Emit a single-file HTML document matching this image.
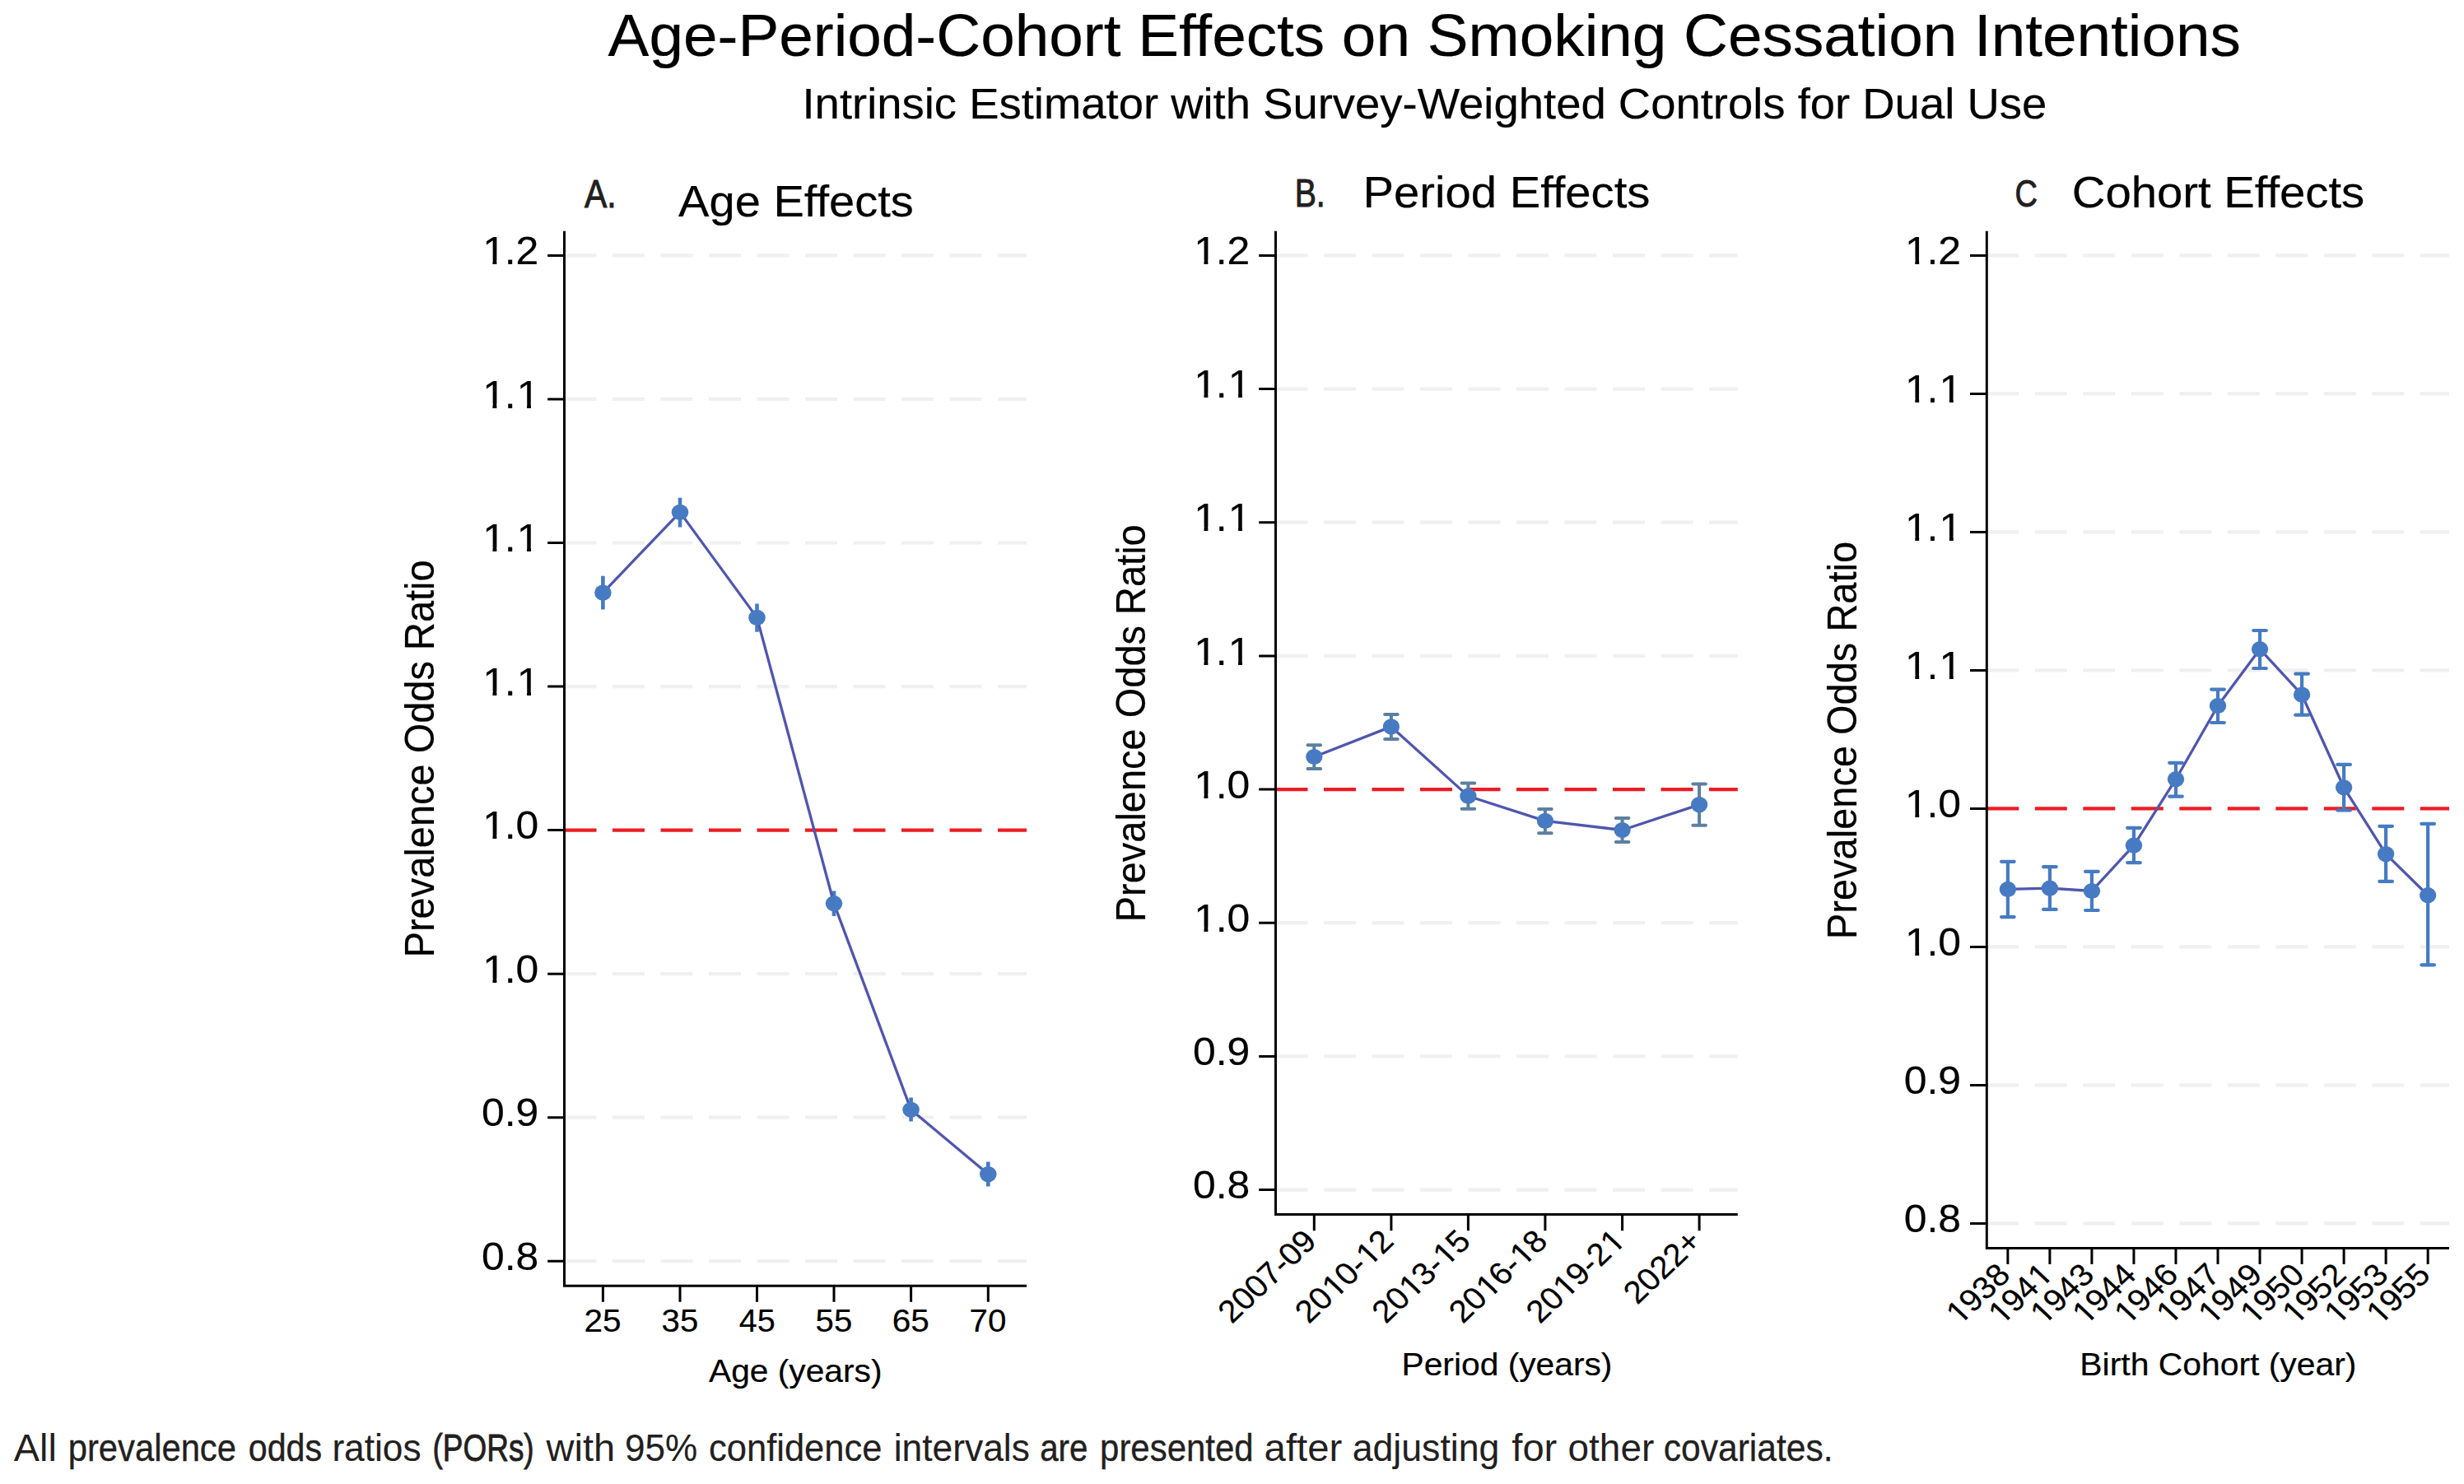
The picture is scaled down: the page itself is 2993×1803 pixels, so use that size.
<!DOCTYPE html>
<html lang="en"><head><meta charset="utf-8"><title>Age-Period-Cohort Effects on Smoking Cessation Intentions</title>
<style>
html,body{margin:0;padding:0;background:#fff;}
body{width:2993px;height:1803px;overflow:hidden;}
svg{display:block;}
text{font-family:"Liberation Sans", sans-serif;fill:#000;stroke:#000;stroke-width:0.2px;}
.ax{stroke:#000;stroke-width:3;fill:none;stroke-linecap:butt;}
.grid{stroke:#f0f0f0;stroke-width:4.2;stroke-dasharray:39 19.5;fill:none;}
.ref{stroke:#ed1c24;stroke-width:4.2;stroke-dasharray:39 19.5;fill:none;}
.ln{stroke:#5056ae;stroke-width:3.3;fill:none;stroke-linejoin:round;}
.mk{fill:#467bc3;}
.pl{fill:#231f20;stroke:#231f20;stroke-width:1.0px;}
.ft{fill:#231f20;stroke:#231f20;}
</style></head><body>
<svg width="2993" height="1803" viewBox="0 0 2993 1803">
<rect width="2993" height="1803" fill="#fff"/>
<text x="738.63" y="68.14" font-size="71.5" textLength="1983.28" lengthAdjust="spacingAndGlyphs">Age-Period-Cohort Effects on Smoking Cessation Intentions</text>
<text x="974.50" y="143.84" font-size="52.4" textLength="1511.70" lengthAdjust="spacingAndGlyphs">Intrinsic Estimator with Survey-Weighted Controls for Dual Use</text>
<g>
<path class="grid" d="M685.5 310.4H1247"/>
<path class="grid" d="M685.5 484.9H1247"/>
<path class="grid" d="M685.5 659.5H1247"/>
<path class="grid" d="M685.5 834.1H1247"/>
<path class="ref" d="M685.5 1008.6H1247"/>
<path class="grid" d="M685.5 1183.2H1247"/>
<path class="grid" d="M685.5 1357.7H1247"/>
<path class="grid" d="M685.5 1532.2H1247"/>
<path class="ax" d="M685.5 280.7V1562.2H1247"/>
<path class="ax" d="M665.2 310.4H685.5M665.2 484.9H685.5M665.2 659.5H685.5M665.2 834.1H685.5M665.2 1008.6H685.5M665.2 1183.2H685.5M665.2 1357.7H685.5M665.2 1532.2H685.5M732.4 1562.2V1581.8M826.0 1562.2V1581.8M919.5 1562.2V1581.8M1013.0 1562.2V1581.8M1106.6 1562.2V1581.8M1200.3 1562.2V1581.8"/>
<g transform="translate(584.95 321.00) scale(1.0286 1)"><text x="0" y="0" font-size="48.5" dx="1.21 -1.21 0.00">1.2</text><path fill="#fff" d="M3.92 -4.96H13.14v7.76H3.92zM17.90 -4.96H26.63v7.76H17.90z"/></g>
<g transform="translate(584.95 495.50) scale(1.0286 1)"><text x="0" y="0" font-size="48.5" dx="1.21 -1.21 1.21">1.1</text><path fill="#fff" d="M3.92 -4.96H13.14v7.76H3.92zM17.90 -4.96H26.63v7.76H17.90z"/><path fill="#fff" d="M44.37 -4.96H53.58v7.76H44.37zM58.35 -4.96H67.08v7.76H58.35z"/></g>
<g transform="translate(584.95 670.10) scale(1.0286 1)"><text x="0" y="0" font-size="48.5" dx="1.21 -1.21 1.21">1.1</text><path fill="#fff" d="M3.92 -4.96H13.14v7.76H3.92zM17.90 -4.96H26.63v7.76H17.90z"/><path fill="#fff" d="M44.37 -4.96H53.58v7.76H44.37zM58.35 -4.96H67.08v7.76H58.35z"/></g>
<g transform="translate(584.95 844.70) scale(1.0286 1)"><text x="0" y="0" font-size="48.5" dx="1.21 -1.21 1.21">1.1</text><path fill="#fff" d="M3.92 -4.96H13.14v7.76H3.92zM17.90 -4.96H26.63v7.76H17.90z"/><path fill="#fff" d="M44.37 -4.96H53.58v7.76H44.37zM58.35 -4.96H67.08v7.76H58.35z"/></g>
<g transform="translate(584.95 1019.20) scale(1.0286 1)"><text x="0" y="0" font-size="48.5" dx="1.21 -1.21 0.00">1.0</text><path fill="#fff" d="M3.92 -4.96H13.14v7.76H3.92zM17.90 -4.96H26.63v7.76H17.90z"/></g>
<g transform="translate(584.95 1193.80) scale(1.0286 1)"><text x="0" y="0" font-size="48.5" dx="1.21 -1.21 0.00">1.0</text><path fill="#fff" d="M3.92 -4.96H13.14v7.76H3.92zM17.90 -4.96H26.63v7.76H17.90z"/></g>
<g transform="translate(584.95 1368.30) scale(1.0286 1)"><text x="0" y="0" font-size="48.5">0.9</text></g>
<g transform="translate(584.95 1542.80) scale(1.0286 1)"><text x="0" y="0" font-size="48.5">0.8</text></g>
<text x="709.58" y="1618.34" font-size="38.6" textLength="45.04" lengthAdjust="spacingAndGlyphs">25</text>
<text x="803.60" y="1618.34" font-size="38.6" textLength="44.60" lengthAdjust="spacingAndGlyphs">35</text>
<text x="897.71" y="1618.34" font-size="38.6" textLength="43.96" lengthAdjust="spacingAndGlyphs">45</text>
<text x="990.60" y="1618.34" font-size="38.6" textLength="44.60" lengthAdjust="spacingAndGlyphs">55</text>
<text x="1083.78" y="1618.34" font-size="38.6" textLength="45.04" lengthAdjust="spacingAndGlyphs">65</text>
<text x="1177.49" y="1618.34" font-size="38.6" textLength="44.82" lengthAdjust="spacingAndGlyphs">70</text>
<g transform="translate(527.3 921.0) rotate(-90)">
<text x="-242.36" y="-0.06" font-size="50.5" textLength="482.99" lengthAdjust="spacingAndGlyphs">Prevalence Odds Ratio</text>
</g>
<text x="861.00" y="1678.84" font-size="38.8" textLength="210.49" lengthAdjust="spacingAndGlyphs">Age (years)</text>
<path d="M732.4 699.8V740.5M826.0 604.8V640.5M919.5 733.6V767.7M1013.0 1082.4V1113.1M1106.6 1333.5V1362.6M1200.3 1411.6V1441.4" stroke="#467bc3" stroke-width="4.6" fill="none" stroke-linecap="butt"/>
<path class="ln" d="M732.4 720.1L826.0 622.4L919.5 750.4L1013.0 1097.7L1106.6 1348.3L1200.3 1426.6"/>
<ellipse class="mk" cx="732.4" cy="720.1" rx="10.3" ry="9.6"/>
<ellipse class="mk" cx="826.0" cy="622.4" rx="10.3" ry="9.6"/>
<ellipse class="mk" cx="919.5" cy="750.4" rx="10.3" ry="9.6"/>
<ellipse class="mk" cx="1013.0" cy="1097.7" rx="10.3" ry="9.6"/>
<ellipse class="mk" cx="1106.6" cy="1348.3" rx="10.3" ry="9.6"/>
<ellipse class="mk" cx="1200.3" cy="1426.6" rx="10.3" ry="9.6"/>
</g>
<g>
<path class="grid" d="M1549.5 310.4H2110.8"/>
<path class="grid" d="M1549.5 472.6H2110.8"/>
<path class="grid" d="M1549.5 634.7H2110.8"/>
<path class="grid" d="M1549.5 796.9H2110.8"/>
<path class="ref" d="M1549.5 959.1H2110.8"/>
<path class="grid" d="M1549.5 1121.2H2110.8"/>
<path class="grid" d="M1549.5 1283.4H2110.8"/>
<path class="grid" d="M1549.5 1445.6H2110.8"/>
<path class="ax" d="M1549.5 280.7V1475.6H2110.8"/>
<path class="ax" d="M1529.2 310.4H1549.5M1529.2 472.6H1549.5M1529.2 634.7H1549.5M1529.2 796.9H1549.5M1529.2 959.1H1549.5M1529.2 1121.2H1549.5M1529.2 1283.4H1549.5M1529.2 1445.6H1549.5M1596.3 1475.6V1495.1999999999998M1689.9 1475.6V1495.1999999999998M1783.4 1475.6V1495.1999999999998M1876.9 1475.6V1495.1999999999998M1970.6 1475.6V1495.1999999999998M2064.1 1475.6V1495.1999999999998"/>
<g transform="translate(1448.95 321.00) scale(1.0286 1)"><text x="0" y="0" font-size="48.5" dx="1.21 -1.21 0.00">1.2</text><path fill="#fff" d="M3.92 -4.96H13.14v7.76H3.92zM17.90 -4.96H26.63v7.76H17.90z"/></g>
<g transform="translate(1448.95 483.20) scale(1.0286 1)"><text x="0" y="0" font-size="48.5" dx="1.21 -1.21 1.21">1.1</text><path fill="#fff" d="M3.92 -4.96H13.14v7.76H3.92zM17.90 -4.96H26.63v7.76H17.90z"/><path fill="#fff" d="M44.37 -4.96H53.58v7.76H44.37zM58.35 -4.96H67.08v7.76H58.35z"/></g>
<g transform="translate(1448.95 645.30) scale(1.0286 1)"><text x="0" y="0" font-size="48.5" dx="1.21 -1.21 1.21">1.1</text><path fill="#fff" d="M3.92 -4.96H13.14v7.76H3.92zM17.90 -4.96H26.63v7.76H17.90z"/><path fill="#fff" d="M44.37 -4.96H53.58v7.76H44.37zM58.35 -4.96H67.08v7.76H58.35z"/></g>
<g transform="translate(1448.95 807.50) scale(1.0286 1)"><text x="0" y="0" font-size="48.5" dx="1.21 -1.21 1.21">1.1</text><path fill="#fff" d="M3.92 -4.96H13.14v7.76H3.92zM17.90 -4.96H26.63v7.76H17.90z"/><path fill="#fff" d="M44.37 -4.96H53.58v7.76H44.37zM58.35 -4.96H67.08v7.76H58.35z"/></g>
<g transform="translate(1448.95 969.70) scale(1.0286 1)"><text x="0" y="0" font-size="48.5" dx="1.21 -1.21 0.00">1.0</text><path fill="#fff" d="M3.92 -4.96H13.14v7.76H3.92zM17.90 -4.96H26.63v7.76H17.90z"/></g>
<g transform="translate(1448.95 1131.80) scale(1.0286 1)"><text x="0" y="0" font-size="48.5" dx="1.21 -1.21 0.00">1.0</text><path fill="#fff" d="M3.92 -4.96H13.14v7.76H3.92zM17.90 -4.96H26.63v7.76H17.90z"/></g>
<g transform="translate(1448.95 1294.00) scale(1.0286 1)"><text x="0" y="0" font-size="48.5">0.9</text></g>
<g transform="translate(1448.95 1456.20) scale(1.0286 1)"><text x="0" y="0" font-size="48.5">0.8</text></g>
<g transform="translate(1601.3 1510.2) scale(1.06,1) rotate(-45)"><text x="-140.20" y="0" font-size="38.2">2007-09</text></g>
<g transform="translate(1694.9 1510.2) scale(1.06,1) rotate(-45)"><text x="-140.20" y="0" font-size="38.2" dx="0.00 0.00 0.96 -0.96 0.00 0.96 -0.96">2010-12</text><path fill="#fff" d="M-94.66 -4.01H-87.41v6.81H-94.66zM-83.55 -4.01H-76.69v6.81H-83.55z"/><path fill="#fff" d="M-39.45 -4.01H-32.20v6.81H-39.45zM-28.34 -4.01H-21.47v6.81H-28.34z"/></g>
<g transform="translate(1788.4 1510.2) scale(1.06,1) rotate(-45)"><text x="-140.20" y="0" font-size="38.2" dx="0.00 0.00 0.96 -0.96 0.00 0.96 -0.96">2013-15</text><path fill="#fff" d="M-94.66 -4.01H-87.41v6.81H-94.66zM-83.55 -4.01H-76.69v6.81H-83.55z"/><path fill="#fff" d="M-39.45 -4.01H-32.20v6.81H-39.45zM-28.34 -4.01H-21.47v6.81H-28.34z"/></g>
<g transform="translate(1881.9 1510.2) scale(1.06,1) rotate(-45)"><text x="-140.20" y="0" font-size="38.2" dx="0.00 0.00 0.96 -0.96 0.00 0.96 -0.96">2016-18</text><path fill="#fff" d="M-94.66 -4.01H-87.41v6.81H-94.66zM-83.55 -4.01H-76.69v6.81H-83.55z"/><path fill="#fff" d="M-39.45 -4.01H-32.20v6.81H-39.45zM-28.34 -4.01H-21.47v6.81H-28.34z"/></g>
<g transform="translate(1975.6 1510.2) scale(1.06,1) rotate(-45)"><text x="-140.20" y="0" font-size="38.2" dx="0.00 0.00 0.96 -0.96 0.00 0.00 0.96">2019-21</text><path fill="#fff" d="M-94.66 -4.01H-87.41v6.81H-94.66zM-83.55 -4.01H-76.69v6.81H-83.55z"/><path fill="#fff" d="M-18.20 -4.01H-10.95v6.81H-18.20zM-7.09 -4.01H-0.23v6.81H-7.09z"/></g>
<g transform="translate(2069.1 1510.2) scale(1.06,1) rotate(-45)"><text x="-107.30" y="0" font-size="38.2">2022+</text></g>
<g transform="translate(1391.3 877.9) rotate(-90)">
<text x="-242.36" y="-0.06" font-size="50.5" textLength="482.99" lengthAdjust="spacingAndGlyphs">Prevalence Odds Ratio</text>
</g>
<text x="1702.54" y="1670.74" font-size="38.8" textLength="255.90" lengthAdjust="spacingAndGlyphs">Period (years)</text>
<path d="M1596.3 905.3V933.9M1588.5 905.3h15.6M1588.5 933.9h15.6M1689.9 867.9V898.0M1682.1000000000001 867.9h15.6M1682.1000000000001 898.0h15.6M1783.4 951.4V982.8M1775.6000000000001 951.4h15.6M1775.6000000000001 982.8h15.6M1876.9 982.9V1012.3M1869.1000000000001 982.9h15.6M1869.1000000000001 1012.3h15.6M1970.6 994.1V1022.9M1962.8 994.1h15.6M1962.8 1022.9h15.6M2064.1 952.4V1002.7M2056.2999999999997 952.4h15.6M2056.2999999999997 1002.7h15.6" stroke="#5b80a0" stroke-width="4.0" fill="none" stroke-linecap="round"/>
<path class="ln" d="M1596.3 919.5L1689.9 882.9L1783.4 967.2L1876.9 997.4L1970.6 1008.5L2064.1 977.6"/>
<ellipse class="mk" cx="1596.3" cy="919.5" rx="10.15" ry="9.6"/>
<ellipse class="mk" cx="1689.9" cy="882.9" rx="10.15" ry="9.6"/>
<ellipse class="mk" cx="1783.4" cy="967.2" rx="10.15" ry="9.6"/>
<ellipse class="mk" cx="1876.9" cy="997.4" rx="10.15" ry="9.6"/>
<ellipse class="mk" cx="1970.6" cy="1008.5" rx="10.15" ry="9.6"/>
<ellipse class="mk" cx="2064.1" cy="977.6" rx="10.15" ry="9.6"/>
</g>
<g>
<path class="grid" d="M2413.3 310.4H2975.0"/>
<path class="grid" d="M2413.3 478.4H2975.0"/>
<path class="grid" d="M2413.3 646.4H2975.0"/>
<path class="grid" d="M2413.3 814.4H2975.0"/>
<path class="ref" d="M2413.3 982.4H2975.0"/>
<path class="grid" d="M2413.3 1150.4H2975.0"/>
<path class="grid" d="M2413.3 1318.4H2975.0"/>
<path class="grid" d="M2413.3 1486.4H2975.0"/>
<path class="ax" d="M2413.3 280.7V1516.5H2975.0"/>
<path class="ax" d="M2393.0 310.4H2413.3M2393.0 478.4H2413.3M2393.0 646.4H2413.3M2393.0 814.4H2413.3M2393.0 982.4H2413.3M2393.0 1150.4H2413.3M2393.0 1318.4H2413.3M2393.0 1486.4H2413.3M2438.85 1516.5V1536.1M2489.88 1516.5V1536.1M2540.91 1516.5V1536.1M2591.94 1516.5V1536.1M2642.97 1516.5V1536.1M2694.0 1516.5V1536.1M2745.03 1516.5V1536.1M2796.06 1516.5V1536.1M2847.09 1516.5V1536.1M2898.12 1516.5V1536.1M2949.15 1516.5V1536.1"/>
<g transform="translate(2312.75 321.00) scale(1.0286 1)"><text x="0" y="0" font-size="48.5" dx="1.21 -1.21 0.00">1.2</text><path fill="#fff" d="M3.92 -4.96H13.14v7.76H3.92zM17.90 -4.96H26.63v7.76H17.90z"/></g>
<g transform="translate(2312.75 489.00) scale(1.0286 1)"><text x="0" y="0" font-size="48.5" dx="1.21 -1.21 1.21">1.1</text><path fill="#fff" d="M3.92 -4.96H13.14v7.76H3.92zM17.90 -4.96H26.63v7.76H17.90z"/><path fill="#fff" d="M44.37 -4.96H53.58v7.76H44.37zM58.35 -4.96H67.08v7.76H58.35z"/></g>
<g transform="translate(2312.75 657.00) scale(1.0286 1)"><text x="0" y="0" font-size="48.5" dx="1.21 -1.21 1.21">1.1</text><path fill="#fff" d="M3.92 -4.96H13.14v7.76H3.92zM17.90 -4.96H26.63v7.76H17.90z"/><path fill="#fff" d="M44.37 -4.96H53.58v7.76H44.37zM58.35 -4.96H67.08v7.76H58.35z"/></g>
<g transform="translate(2312.75 825.00) scale(1.0286 1)"><text x="0" y="0" font-size="48.5" dx="1.21 -1.21 1.21">1.1</text><path fill="#fff" d="M3.92 -4.96H13.14v7.76H3.92zM17.90 -4.96H26.63v7.76H17.90z"/><path fill="#fff" d="M44.37 -4.96H53.58v7.76H44.37zM58.35 -4.96H67.08v7.76H58.35z"/></g>
<g transform="translate(2312.75 993.00) scale(1.0286 1)"><text x="0" y="0" font-size="48.5" dx="1.21 -1.21 0.00">1.0</text><path fill="#fff" d="M3.92 -4.96H13.14v7.76H3.92zM17.90 -4.96H26.63v7.76H17.90z"/></g>
<g transform="translate(2312.75 1161.00) scale(1.0286 1)"><text x="0" y="0" font-size="48.5" dx="1.21 -1.21 0.00">1.0</text><path fill="#fff" d="M3.92 -4.96H13.14v7.76H3.92zM17.90 -4.96H26.63v7.76H17.90z"/></g>
<g transform="translate(2312.75 1329.00) scale(1.0286 1)"><text x="0" y="0" font-size="48.5">0.9</text></g>
<g transform="translate(2312.75 1497.00) scale(1.0286 1)"><text x="0" y="0" font-size="48.5">0.8</text></g>
<g transform="translate(2443.8 1551.1) scale(1.06,1) rotate(-45)"><text x="-84.99" y="0" font-size="38.2" dx="0.96 -0.96 0.00 0.00">1938</text><path fill="#fff" d="M-81.94 -4.01H-74.69v6.81H-81.94zM-70.83 -4.01H-63.97v6.81H-70.83z"/></g>
<g transform="translate(2494.9 1551.1) scale(1.06,1) rotate(-45)"><text x="-84.99" y="0" font-size="38.2" dx="0.96 -0.96 0.00 0.96">1941</text><path fill="#fff" d="M-81.94 -4.01H-74.69v6.81H-81.94zM-70.83 -4.01H-63.97v6.81H-70.83z"/><path fill="#fff" d="M-18.20 -4.01H-10.95v6.81H-18.20zM-7.09 -4.01H-0.23v6.81H-7.09z"/></g>
<g transform="translate(2545.9 1551.1) scale(1.06,1) rotate(-45)"><text x="-84.99" y="0" font-size="38.2" dx="0.96 -0.96 0.00 0.00">1943</text><path fill="#fff" d="M-81.94 -4.01H-74.69v6.81H-81.94zM-70.83 -4.01H-63.97v6.81H-70.83z"/></g>
<g transform="translate(2596.9 1551.1) scale(1.06,1) rotate(-45)"><text x="-84.99" y="0" font-size="38.2" dx="0.96 -0.96 0.00 0.00">1944</text><path fill="#fff" d="M-81.94 -4.01H-74.69v6.81H-81.94zM-70.83 -4.01H-63.97v6.81H-70.83z"/></g>
<g transform="translate(2648.0 1551.1) scale(1.06,1) rotate(-45)"><text x="-84.99" y="0" font-size="38.2" dx="0.96 -0.96 0.00 0.00">1946</text><path fill="#fff" d="M-81.94 -4.01H-74.69v6.81H-81.94zM-70.83 -4.01H-63.97v6.81H-70.83z"/></g>
<g transform="translate(2699.0 1551.1) scale(1.06,1) rotate(-45)"><text x="-84.99" y="0" font-size="38.2" dx="0.96 -0.96 0.00 0.00">1947</text><path fill="#fff" d="M-81.94 -4.01H-74.69v6.81H-81.94zM-70.83 -4.01H-63.97v6.81H-70.83z"/></g>
<g transform="translate(2750.0 1551.1) scale(1.06,1) rotate(-45)"><text x="-84.99" y="0" font-size="38.2" dx="0.96 -0.96 0.00 0.00">1949</text><path fill="#fff" d="M-81.94 -4.01H-74.69v6.81H-81.94zM-70.83 -4.01H-63.97v6.81H-70.83z"/></g>
<g transform="translate(2801.1 1551.1) scale(1.06,1) rotate(-45)"><text x="-84.99" y="0" font-size="38.2" dx="0.96 -0.96 0.00 0.00">1950</text><path fill="#fff" d="M-81.94 -4.01H-74.69v6.81H-81.94zM-70.83 -4.01H-63.97v6.81H-70.83z"/></g>
<g transform="translate(2852.1 1551.1) scale(1.06,1) rotate(-45)"><text x="-84.99" y="0" font-size="38.2" dx="0.96 -0.96 0.00 0.00">1952</text><path fill="#fff" d="M-81.94 -4.01H-74.69v6.81H-81.94zM-70.83 -4.01H-63.97v6.81H-70.83z"/></g>
<g transform="translate(2903.1 1551.1) scale(1.06,1) rotate(-45)"><text x="-84.99" y="0" font-size="38.2" dx="0.96 -0.96 0.00 0.00">1953</text><path fill="#fff" d="M-81.94 -4.01H-74.69v6.81H-81.94zM-70.83 -4.01H-63.97v6.81H-70.83z"/></g>
<g transform="translate(2954.2 1551.1) scale(1.06,1) rotate(-45)"><text x="-84.99" y="0" font-size="38.2" dx="0.96 -0.96 0.00 0.00">1955</text><path fill="#fff" d="M-81.94 -4.01H-74.69v6.81H-81.94zM-70.83 -4.01H-63.97v6.81H-70.83z"/></g>
<g transform="translate(2255.1 898.6) rotate(-90)">
<text x="-242.36" y="-0.06" font-size="50.5" textLength="482.99" lengthAdjust="spacingAndGlyphs">Prevalence Odds Ratio</text>
</g>
<text x="2526.33" y="1671.14" font-size="38.8" textLength="336.11" lengthAdjust="spacingAndGlyphs">Birth Cohort (year)</text>
<path d="M2438.85 1046.8V1114.1M2431.0499999999997 1046.8h15.6M2431.0499999999997 1114.1h15.6M2489.88 1053.2V1104.9M2482.08 1053.2h15.6M2482.08 1104.9h15.6M2540.91 1058.9V1106.0M2533.1099999999997 1058.9h15.6M2533.1099999999997 1106.0h15.6M2591.94 1005.8V1048.1M2584.14 1005.8h15.6M2584.14 1048.1h15.6M2642.97 926.8V967.6M2635.1699999999996 926.8h15.6M2635.1699999999996 967.6h15.6M2694.0 837.6V878.0M2686.2 837.6h15.6M2686.2 878.0h15.6M2745.03 766.0V812.0M2737.23 766.0h15.6M2737.23 812.0h15.6M2796.06 818.7V868.7M2788.2599999999998 818.7h15.6M2788.2599999999998 868.7h15.6M2847.09 928.9V984.5M2839.29 928.9h15.6M2839.29 984.5h15.6M2898.12 1003.8V1070.9M2890.3199999999997 1003.8h15.6M2890.3199999999997 1070.9h15.6M2949.15 1000.9V1172.3M2941.35 1000.9h15.6M2941.35 1172.3h15.6" stroke="#467bc3" stroke-width="4.2" fill="none" stroke-linecap="round"/>
<path class="ln" d="M2438.85 1080.45L2489.88 1079.2L2540.91 1082.5L2591.94 1027.2L2642.97 946.7L2694.0 857.5L2745.03 788.7L2796.06 844.0L2847.09 956.8L2898.12 1037.6L2949.15 1087.7"/>
<ellipse class="mk" cx="2438.85" cy="1080.45" rx="10.2" ry="9.6"/>
<ellipse class="mk" cx="2489.88" cy="1079.2" rx="10.2" ry="9.6"/>
<ellipse class="mk" cx="2540.91" cy="1082.5" rx="10.2" ry="9.6"/>
<ellipse class="mk" cx="2591.94" cy="1027.2" rx="10.2" ry="9.6"/>
<ellipse class="mk" cx="2642.97" cy="946.7" rx="10.2" ry="9.6"/>
<ellipse class="mk" cx="2694.0" cy="857.5" rx="10.2" ry="9.6"/>
<ellipse class="mk" cx="2745.03" cy="788.7" rx="10.2" ry="9.6"/>
<ellipse class="mk" cx="2796.06" cy="844.0" rx="10.2" ry="9.6"/>
<ellipse class="mk" cx="2847.09" cy="956.8" rx="10.2" ry="9.6"/>
<ellipse class="mk" cx="2898.12" cy="1037.6" rx="10.2" ry="9.6"/>
<ellipse class="mk" cx="2949.15" cy="1087.7" rx="10.2" ry="9.6"/>
</g>
<text x="824.12" y="262.84" font-size="53.6" textLength="285.68" lengthAdjust="spacingAndGlyphs">Age Effects</text>
<text x="1655.50" y="251.84" font-size="53.6" textLength="348.98" lengthAdjust="spacingAndGlyphs">Period Effects</text>
<text x="2516.89" y="251.84" font-size="53.6" textLength="355.34" lengthAdjust="spacingAndGlyphs">Cohort Effects</text>
<text class="pl" x="709.90" y="251.50" font-size="48" textLength="38.68" lengthAdjust="spacingAndGlyphs">A.</text>
<text class="pl" x="1572.66" y="251.20" font-size="48" textLength="37.06" lengthAdjust="spacingAndGlyphs">B.</text>
<text class="pl" x="2447.60" y="250.70" font-size="47" textLength="27.40" lengthAdjust="spacingAndGlyphs">C</text>
<g>
<text class="ft" x="16.77" y="1774.90" font-size="47" textLength="52.04" lengthAdjust="spacingAndGlyphs" style="stroke-width:0.0px">All</text>
<text class="ft" x="82.69" y="1774.78" font-size="47" textLength="204.27" lengthAdjust="spacingAndGlyphs" style="stroke-width:0.4px">prevalence</text>
<text class="ft" x="301.78" y="1774.77" font-size="47" textLength="89.18" lengthAdjust="spacingAndGlyphs" style="stroke-width:0.45px">odds</text>
<text class="ft" x="403.39" y="1774.86" font-size="47" textLength="108.20" lengthAdjust="spacingAndGlyphs" style="stroke-width:0.14px">ratios</text>
<text class="ft" x="525.53" y="1774.63" font-size="47" textLength="123.16" lengthAdjust="spacingAndGlyphs" style="stroke-width:0.89px">(PORs)</text>
<text class="ft" x="663.60" y="1774.90" font-size="47" textLength="83.58" lengthAdjust="spacingAndGlyphs" style="stroke-width:0.0px">with</text>
<text class="ft" x="759.09" y="1774.86" font-size="47" textLength="88.24" lengthAdjust="spacingAndGlyphs" style="stroke-width:0.15px">95%</text>
<text class="ft" x="860.95" y="1774.84" font-size="47" textLength="210.57" lengthAdjust="spacingAndGlyphs" style="stroke-width:0.21px">confidence</text>
<text class="ft" x="1085.68" y="1774.86" font-size="47" textLength="165.17" lengthAdjust="spacingAndGlyphs" style="stroke-width:0.13px">intervals</text>
<text class="ft" x="1263.26" y="1774.74" font-size="47" textLength="58.10" lengthAdjust="spacingAndGlyphs" style="stroke-width:0.53px">are</text>
<text class="ft" x="1336.06" y="1774.79" font-size="47" textLength="186.59" lengthAdjust="spacingAndGlyphs" style="stroke-width:0.38px">presented</text>
<text class="ft" x="1535.57" y="1774.90" font-size="47" textLength="94.69" lengthAdjust="spacingAndGlyphs" style="stroke-width:0.0px">after</text>
<text class="ft" x="1642.63" y="1774.87" font-size="47" textLength="178.83" lengthAdjust="spacingAndGlyphs" style="stroke-width:0.09px">adjusting</text>
<text class="ft" x="1836.29" y="1774.90" font-size="47" textLength="55.01" lengthAdjust="spacingAndGlyphs" style="stroke-width:0.0px">for</text>
<text class="ft" x="1904.56" y="1774.90" font-size="47" textLength="104.69" lengthAdjust="spacingAndGlyphs" style="stroke-width:0.0px">other</text>
<text class="ft" x="2020.74" y="1774.81" font-size="47" textLength="205.86" lengthAdjust="spacingAndGlyphs" style="stroke-width:0.31px">covariates.</text>
</g>
</svg></body></html>
